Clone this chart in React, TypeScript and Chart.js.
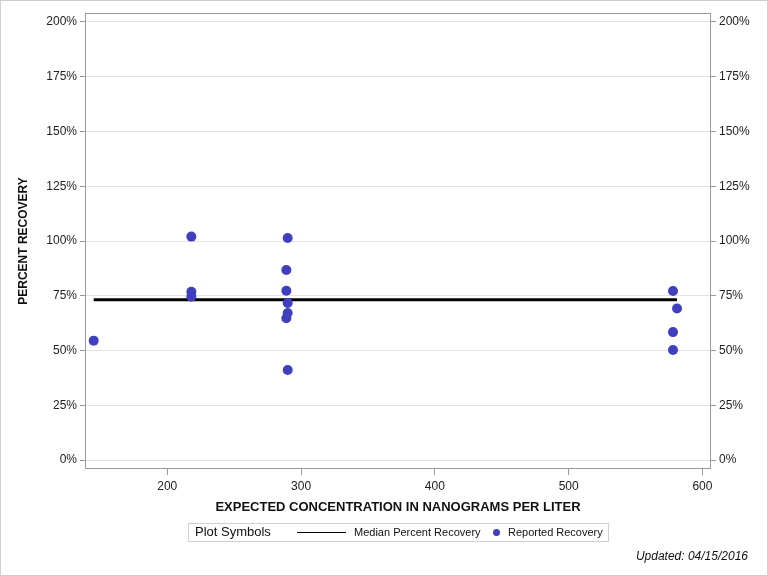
import React, { useEffect, useRef } from "react";
import { Chart, registerables } from "chart.js";

Chart.register(...registerables);

const concentration = [145, 218, 218, 218, 290, 289, 289, 290, 290, 289, 290, 578, 581, 578, 578];
const recovery = [54.5, 102, 76.8, 74.6, 101.4, 86.8, 77.3, 71.7, 67.1, 64.7, 41.1, 77.2, 69.2, 58.4, 50.2];
const medianX = [145, 581];
const medianY = [73.2, 73.2];
const yTicks = [0, 25, 50, 75, 100, 125, 150, 175, 200];
const xTicks = [200, 300, 400, 500, 600];

const FONT = "'Liberation Sans', Arial, sans-serif";

const framePlugin = {
  id: "frame",
  beforeDatasetsDraw(chart: any) {
    const { ctx, chartArea } = chart;
    ctx.save();
    ctx.strokeStyle = "#9a9a9a";
    ctx.lineWidth = 1;
    ctx.strokeRect(
      Math.round(chartArea.left) + 0.5,
      Math.round(chartArea.top) + 0.5,
      Math.round(chartArea.right - chartArea.left) - 1,
      Math.round(chartArea.bottom - chartArea.top) - 1
    );
    ctx.restore();
  },
};

export default function App() {
  const ref = useRef<HTMLCanvasElement>(null);
  useEffect(() => {
    if (!ref.current) return;
    const tickFont = { family: FONT, size: 12 };
    const yCommon = {
      type: "linear" as const,
      min: -4.1,
      max: 204.1,
      afterBuildTicks: (s: any) => {
        s.ticks = yTicks.map((v) => ({ value: v }));
      },
      ticks: {
        font: tickFont,
        color: "#222",
        padding: 3,
        callback: (v: any) => v + "%",
      },
      border: { display: false },
    };
    const chart = new Chart(ref.current, {
      type: "scatter",
      data: {
        datasets: [
          {
            label: "Median Percent Recovery",
            data: medianX.map((x, i) => ({ x, y: medianY[i] })),
            showLine: true,
            borderColor: "#000",
            borderWidth: 3,
            pointRadius: 0,
            order: 2,
          },
          {
            label: "Reported Recovery",
            data: concentration.map((x, i) => ({ x, y: recovery[i] })),
            backgroundColor: "#3f3fbf",
            borderWidth: 0,
            pointRadius: 5,
            order: 1,
          },
        ],
      },
      options: {
        animation: false,
        responsive: false,
        layout: { padding: { top: 13, bottom: 60, left: 0, right: 0 } },
        plugins: { legend: { display: false }, tooltip: { enabled: false } },
        scales: {
          x: {
            type: "linear",
            min: 138.5,
            max: 606.4,
            afterBuildTicks: (s: any) => {
              s.ticks = xTicks.map((v) => ({ value: v }));
            },
            afterFit: (s: any) => {
              s.height = 47;
            },
            grid: { drawOnChartArea: false, drawTicks: true, tickLength: 6, tickColor: "#9a9a9a" },
            border: { display: false },
            ticks: { font: tickFont, color: "#222", padding: 4, maxRotation: 0 },
            title: {
              display: true,
              text: "EXPECTED CONCENTRATION IN NANOGRAMS PER LITER",
              font: { family: FONT, size: 13, weight: "bold" },
              color: "#111",
              padding: { top: 0, bottom: 1 },
            },
          },
          y: {
            ...yCommon,
            position: "left",
            afterFit: (s: any) => {
              s.width = 85;
            },
            grid: { color: "#e4e4e4", tickColor: "#9a9a9a", tickLength: 5 },
            title: {
              display: true,
              text: "PERCENT RECOVERY",
              font: { family: FONT, size: 12, weight: "bold" },
              color: "#111",
              padding: { top: 16, bottom: 0 },
            },
          },
          y2: {
            ...yCommon,
            position: "right",
            afterFit: (s: any) => {
              s.width = 57;
            },
            grid: { drawOnChartArea: false, tickColor: "#9a9a9a", tickLength: 5 },
          },
        },
      },
      plugins: [framePlugin],
    });
    return () => chart.destroy();
  }, []);

  return (
    <div style={{ position: "absolute", left: 0, top: 0, width: 768, height: 576, background: "#fff" }}>
      <canvas ref={ref} width={768} height={576} style={{ display: "block" }} />
      <div
        style={{
          position: "absolute",
          left: 0,
          top: 0,
          width: 768,
          height: 576,
          boxSizing: "border-box",
          border: "1px solid #cfcfcf",
          pointerEvents: "none",
        }}
      />
      <div
        style={{
          position: "absolute",
          left: 188,
          top: 523,
          width: 421,
          height: 19,
          boxSizing: "border-box",
          border: "1px solid #cfcfcf",
          fontFamily: FONT,
          color: "#111",
          whiteSpace: "nowrap",
        }}
      >
        <span style={{ position: "absolute", left: 6, top: 0, fontSize: 13 }}>Plot Symbols</span>
        <span
          style={{
            position: "absolute",
            left: 108,
            top: 8,
            width: 49,
            height: 0,
            borderTop: "1px solid #000",
          }}
        />
        <span style={{ position: "absolute", left: 165, top: 2, fontSize: 11 }}>Median Percent Recovery</span>
        <span
          style={{
            position: "absolute",
            left: 304,
            top: 5,
            width: 7,
            height: 7,
            borderRadius: "50%",
            background: "#3f3fbf",
          }}
        />
        <span style={{ position: "absolute", left: 319, top: 2, fontSize: 11 }}>Reported Recovery</span>
      </div>
      <div
        style={{
          position: "absolute",
          right: 20,
          top: 549,
          fontSize: 12,
          fontStyle: "italic",
          fontFamily: FONT,
          color: "#111",
        }}
      >
        Updated: 04/15/2016
      </div>
    </div>
  );
}
